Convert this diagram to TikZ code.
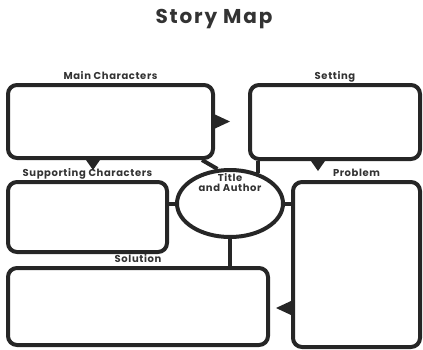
\documentclass[tikz,border=0pt]{standalone}
\usepackage{fontspec}
\setmainfont{Poppins}
\usepackage{tikz}
\usetikzlibrary{positioning,shapes}

\begin{document}
\begin{tikzpicture}[x=1pt,y=-1pt]
\tikzstyle{every node}+=[inner sep=0pt]
\tikzstyle{mapbox}=[draw=black!85,line width=4pt,rounded corners=9pt,rectangle]
\tikzstyle{maplabel}=[font=\bfseries\fontsize{10}{10}\selectfont\addfontfeatures{LetterSpace=6},text=black!80]
\tikzstyle{mapline}=[draw=black!85,line width=4pt]
\useasboundingbox (0,0) rectangle (423,349);
\node [font=\bfseries\fontsize{20}{22}\selectfont\addfontfeatures{LetterSpace=9},text=black!80] (head) at (214,19) {Story Map};
\node [mapbox,minimum width=205pt,minimum height=73pt] (mainc) at (110.5,121.5) {};
\node [mapbox,minimum width=170pt,minimum height=74pt] (setting) at (335,122) {};
\node [mapbox,minimum width=159pt,minimum height=70pt] (support) at (87.5,217) {};
\node [mapbox,minimum width=127pt,minimum height=165pt] (problem) at (356.5,264.5) {};
\node [mapbox,minimum width=260pt,minimum height=77pt] (solution) at (138,306.5) {};
\node [draw=black!85,line width=4pt,ellipse,minimum width=106pt,minimum height=67pt] (title) at (230,203.5) {};
\node [maplabel,above=3.5pt of mainc,anchor=base] (maincl) {Main Characters};
\node [maplabel,above=3.5pt of setting,anchor=base] (settingl) {Setting};
\node [maplabel,above=3.5pt of support,anchor=base] (supportl) {Supporting Characters};
\node [maplabel,above=3.5pt of problem,anchor=base] (probleml) {Problem};
\node [maplabel,above=3.5pt of solution,anchor=base] (solutionl) {Solution};
\node [maplabel,align=center,below=5pt of title.north] (titlel) {Title\\and Author};
\draw [mapline] ([xshift=-13pt]mainc.south east) -- (title.110);
\draw [mapline] (title.48 |- setting.south) -- (title.48);
\draw [mapline] (title.west -| support.east) -- (title.west);
\draw [mapline] (title.east) -- (title.east -| problem.west);
\draw [mapline] (title.south) -- (title.south |- solution.north);
\fill [black!85] ([yshift=7pt]mainc.east) -- ++(15,7) -- ([yshift=-7pt]mainc.east) -- cycle;
\fill [black!85] ([xshift=-17.5pt]mainc.south) ++(-7,0) -- ++(7,10) -- ++(7,-10) -- cycle;
\fill [black!85] ([xshift=-17pt]setting.south) ++(-7,0) -- ++(7,10) -- ++(7,-10) -- cycle;
\fill [black!85] ([yshift=-43.5pt]problem.west) ++(0,-7) -- ++(-15,7) -- ++(15,7) -- cycle;
\end{tikzpicture}
\end{document}
